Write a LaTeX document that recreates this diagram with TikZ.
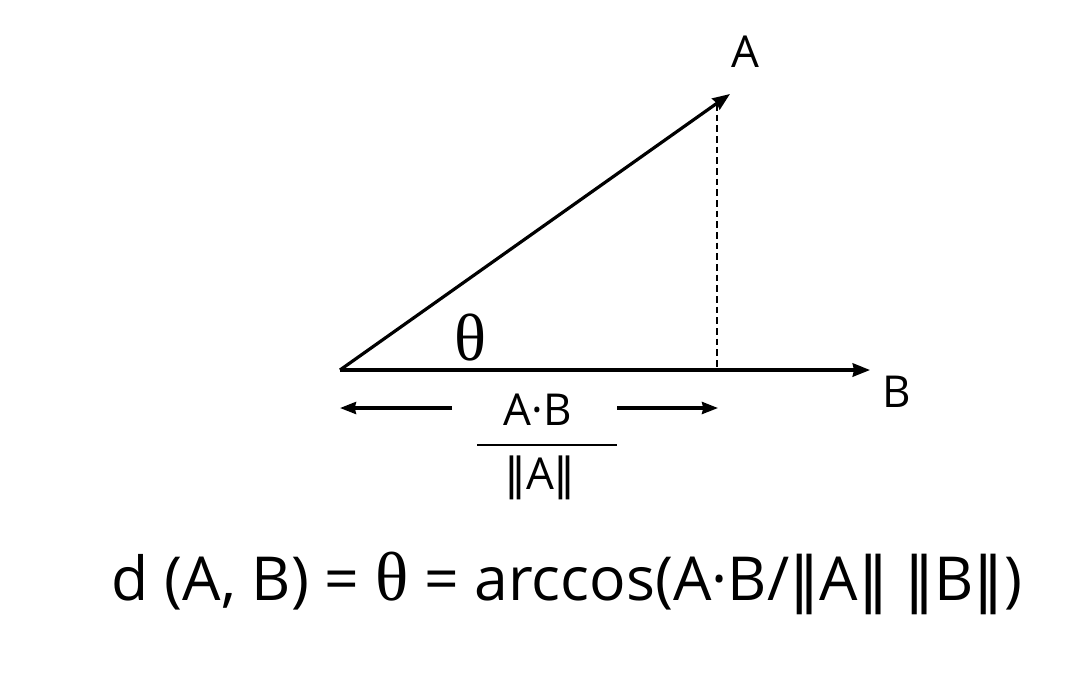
\documentclass[tikz,border=0pt]{standalone}
\usepackage{fontspec}
\setmainfont{Open Sans}
\newfontfamily\thetafont{Liberation Serif}
\newfontfamily\barfont{DejaVu Sans}
\usetikzlibrary{arrows.meta}
\newcommand{\nrm}{{\barfont ‖}}
\begin{document}
\begin{tikzpicture}[x=0.75pt,y=-0.75pt,
  vec/.style={line width=2.4pt,-{Stealth[length=13pt,width=10pt,inset=1pt]}},
  dim/.style={line width=2.4pt,-{Stealth[length=12pt,width=9pt,inset=1pt]}},
  lbl/.style={inner sep=0pt,font=\fontsize{33}{40}\selectfont},
  bigf/.style={inner sep=0pt,font=\fontsize{45.5}{54}\selectfont}]
\useasboundingbox (0,0) rectangle (1077,687);
\coordinate (O) at (340,370);
\coordinate (Bt) at (870,370);
\coordinate (At) at (730,94);
\coordinate (Dt) at (717,104);
\coordinate (Db) at (717,370);
\draw[vec] (O) -- (At);
\draw[vec] (O) -- (Bt);
\draw[line width=1.1pt,dash pattern=on 5pt off 3pt] (Dt) -- (Db);
\node[lbl] (A) at (745,52) {A};
\node[lbl] (B) at (897,392) {B};
\node[inner sep=0pt,font=\thetafont\fontsize{50}{58}\selectfont] (th) at (470,338) {θ};
\node[lbl] (num) at (538,410) {A·B};
\coordinate (fl) at (477,445);
\coordinate (fr) at (617,445);
\draw[line width=1.1pt] (fl) -- (fr);
\node[lbl] (den) at (540,478) {\nrm A\nrm};
\coordinate (l1) at (452,408);
\coordinate (l2) at (340,408);
\coordinate (r1) at (617,408);
\coordinate (r2) at (718,408);
\draw[dim] (l1) -- (l2);
\draw[dim] (r1) -- (r2);
\node[bigf] (f) at (567,583) {d (A, B) = {\thetafont\fontsize{52}{56}\selectfont θ} = arccos(A·B/\nrm A\nrm\ \nrm B\nrm)};
\end{tikzpicture}
\end{document}
